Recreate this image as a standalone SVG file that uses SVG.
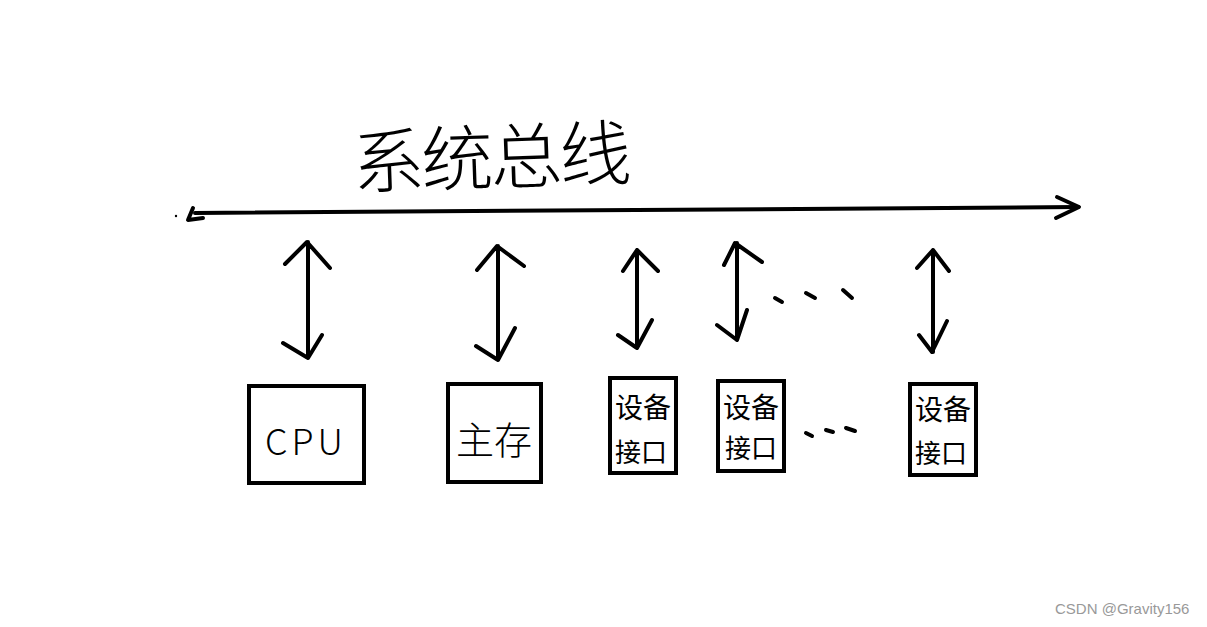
<svg xmlns="http://www.w3.org/2000/svg" width="1207" height="627" viewBox="0 0 1207 627">
<style>
.ln{fill:none;stroke:#000;stroke-width:4;stroke-linecap:round;stroke-linejoin:round}
.bx{fill:#fff;stroke:#000;stroke-width:4}
.t{font-family:"Noto Sans CJK SC","Liberation Sans",sans-serif;fill:#000}
.wm{font-family:"Liberation Sans",Arial,sans-serif;font-size:15px;fill:#999}
</style>
<rect width="1207" height="627" fill="#fff"/>
<g id="title">
<text class="t" x="352" y="184" font-size="72" font-weight="300" letter-spacing="-3" transform="rotate(-2 490 150)">系统总线</text>
</g>
<g id="connectors">
<path class="ln" d="M193,208 L188,220 L203,218"/>
<circle cx="176" cy="216" r="1.2" fill="#000"/>
<path class="ln" d="M195,213 L1078,207"/>
<path class="ln" d="M1057,197 L1079,207 L1056,218"/>
<path class="ln" d="M308,242 L308,358 M285,264 L307,242 L330,268 M283,343 L308,358 L322,335"/>
<path class="ln" d="M498,246 L498,360 M477,270 L497,246 L524,266 M476,346 L498,360 L515,328"/>
<path class="ln" d="M637,250 L637,348 M623,271 L637,250 L658,271 M618,335 L637,348 L652,320"/>
<path class="ln" d="M737,243 L737,340 M724,265 L735,243 L762,262 M717,325 L737,340 L747,310"/>
<path class="ln" d="M933,250 L933,352 M917,268 L933,250 L949,271 M919,335 L932,352 L947,321"/>
<path class="ln" d="M775,298 L782,302 M806,293 L815,298 M843,290 L852,298"/>
<path class="ln" d="M806,433 L812,436 M826,430 L833,432 M846,428 L855,431"/>
</g>
<g id="cpu">
<rect class="bx" x="249" y="386" width="115" height="97"/>
<text class="t" x="306" y="455" font-size="36" font-weight="300" text-anchor="middle" letter-spacing="4">CPU</text>
</g>
<g id="memory">
<rect class="bx" x="448" y="384" width="93" height="98"/>
<text class="t" x="494" y="454" font-size="38" font-weight="300" text-anchor="middle">主存</text>
</g>
<g id="dev1">
<rect class="bx" x="610" y="378" width="66" height="95"/>
<text class="t" x="643" y="418" font-size="28" text-anchor="middle">设备</text>
<text class="t" x="641" y="462" font-size="26" text-anchor="middle">接口</text>
</g>
<g id="dev2">
<rect class="bx" x="718" y="381" width="66" height="90"/>
<text class="t" x="751" y="418" font-size="28" text-anchor="middle">设备</text>
<text class="t" x="751" y="458" font-size="26" text-anchor="middle">接口</text>
</g>
<g id="dev3">
<rect class="bx" x="910" y="384" width="66" height="91"/>
<text class="t" x="943" y="420" font-size="28" text-anchor="middle">设备</text>
<text class="t" x="941" y="463" font-size="26" text-anchor="middle">接口</text>
</g>
<text class="wm" x="1055" y="614">CSDN @Gravity156</text>
</svg>
